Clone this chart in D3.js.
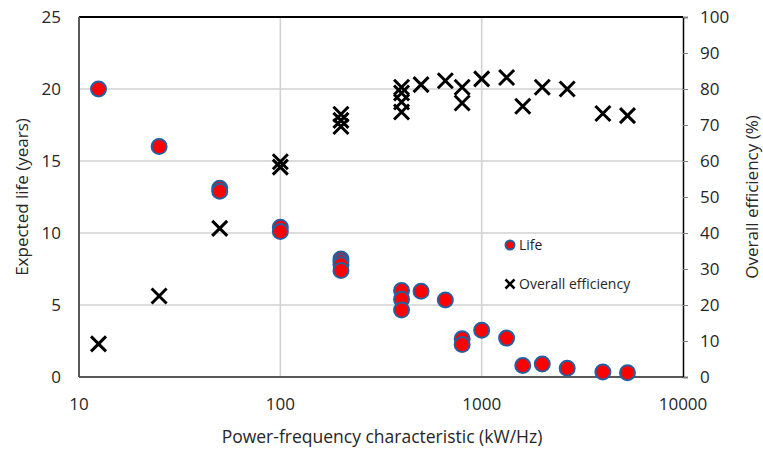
<!DOCTYPE html>
<html>
<head>
<meta charset="utf-8">
<script src="https://cdn.jsdelivr.net/npm/d3@7"></script>
<style>
  body { margin: 0; background: #fff; }
  svg text { font-family: "Open Sans", sans-serif; fill: #262626; }
</style>
</head>
<body>
<div class="chart"></div>
<script>
// Life series (circles)
var lifeX = [12.5, 25, 50, 50, 100, 100, 200, 200, 200, 200, 400, 400, 400, 500, 660, 800, 800, 1000, 1330, 1600, 2000, 2660, 4000, 5300];
var lifeY = [20, 16, 13.1, 12.9, 10.4, 10.1, 8.2, 8.0, 7.8, 7.4, 6.0, 5.4, 4.65, 5.95, 5.35, 2.65, 2.25, 3.25, 2.7, 0.8, 0.9, 0.6, 0.35, 0.3];

// Overall efficiency series (crosses)
var effX = [12.5, 25, 50, 100, 100, 200, 200, 200, 400, 400, 400, 400, 500, 660, 800, 800, 1000, 1330, 1600, 2000, 2660, 4000, 5300];
var effY = [9.2, 22.5, 41.3, 59.8, 58.3, 73, 71.3, 69.6, 80.5, 78.9, 76.4, 73.6, 81.2, 82.3, 80.5, 76.1, 82.8, 83.2, 75.2, 80.5, 80, 73.2, 72.6];

var xTicks = [10, 100, 1000, 10000];
var leftTicks = [0, 5, 10, 15, 20, 25];
var rightTicks = [0, 10, 20, 30, 40, 50, 60, 70, 80, 90, 100];

var width = 763, height = 453;
var margin = {left: 79, right: 80, top: 17, bottom: 76};

var svg = d3.select(".chart").append("svg")
    .attr("width", width)
    .attr("height", height);

var x = d3.scaleLog().domain([10, 10000]).range([margin.left, width - margin.right]);
var yL = d3.scaleLinear().domain([0, 25]).range([height - margin.bottom, margin.top]);
var yR = d3.scaleLinear().domain([0, 100]).range([height - margin.bottom, margin.top]);

var x0 = x.range()[0], x1 = x.range()[1];
var y0 = yL.range()[0], y1 = yL.range()[1];

// gridlines
svg.append("g").selectAll("line")
    .data(leftTicks.slice(1, -1))
    .enter().append("line")
    .attr("x1", x0).attr("x2", x1)
    .attr("y1", function (d) { return yL(d); })
    .attr("y2", function (d) { return yL(d); })
    .attr("stroke", "#d0d0d0").attr("stroke-width", 1.5);

svg.append("g").selectAll("line")
    .data(xTicks.slice(1, -1))
    .enter().append("line")
    .attr("y1", y0).attr("y2", y1)
    .attr("x1", function (d) { return x(d); })
    .attr("x2", function (d) { return x(d); })
    .attr("stroke", "#d0d0d0").attr("stroke-width", 1.5);

// frame
svg.append("line").attr("x1", x0).attr("x2", x1).attr("y1", y1).attr("y2", y1)
    .attr("stroke", "#000").attr("stroke-width", 2);
svg.append("line").attr("x1", x0).attr("x2", x0).attr("y1", y1).attr("y2", y0)
    .attr("stroke", "#595959").attr("stroke-width", 2);
svg.append("line").attr("x1", x0).attr("x2", x1).attr("y1", y0).attr("y2", y0)
    .attr("stroke", "#595959").attr("stroke-width", 2);

// left axis labels
svg.append("g").selectAll("text")
    .data(leftTicks)
    .enter().append("text")
    .attr("x", x0 - 18)
    .attr("y", function (d) { return yL(d); })
    .attr("dy", "0.35em")
    .attr("text-anchor", "end")
    .attr("font-size", 17)
    .text(function (d) { return d; });

// right axis
var rightAxis = d3.axisRight(yR).tickValues(rightTicks).tickSize(5).tickPadding(12);
var gR = svg.append("g")
    .attr("transform", "translate(" + x1 + ",0)")
    .call(rightAxis);
gR.select(".domain").attr("stroke", "#000").attr("stroke-width", 1.5);
gR.selectAll(".tick line").attr("stroke", "#808080");
gR.selectAll(".tick text").attr("font-size", 17).attr("font-family", "Open Sans").attr("fill", "#262626");

// x axis labels
svg.append("g").selectAll("text")
    .data(xTicks)
    .enter().append("text")
    .attr("x", function (d) { return x(d); })
    .attr("y", y0 + 27)
    .attr("dy", "0.35em")
    .attr("text-anchor", "middle")
    .attr("font-size", 17)
    .text(function (d) { return d; });

// axis titles
svg.append("text")
    .attr("x", (x0 + x1) / 2 + 1)
    .attr("y", 437)
    .attr("dy", "0.35em")
    .attr("text-anchor", "middle")
    .attr("font-size", 17.5)
    .text("Power-frequency characteristic (kW/Hz)");

svg.append("text")
    .attr("transform", "translate(22," + (y0 + y1) / 2 + ") rotate(-90)")
    .attr("dy", "0.35em")
    .attr("text-anchor", "middle")
    .attr("font-size", 17)
    .text("Expected life (years)");

svg.append("text")
    .attr("transform", "translate(752," + (y0 + y1) / 2 + ") rotate(-90)")
    .attr("dy", "0.35em")
    .attr("text-anchor", "middle")
    .attr("font-size", 17)
    .text("Overall efficiency (%)");

// life markers
svg.append("g").selectAll("circle")
    .data(d3.range(lifeX.length))
    .enter().append("circle")
    .attr("cx", function (i) { return x(lifeX[i]); })
    .attr("cy", function (i) { return yL(lifeY[i]); })
    .attr("r", 7.5)
    .attr("fill", "#ff0000")
    .attr("stroke", "#24609f")
    .attr("stroke-width", 2);

// efficiency markers
function cross(s) {
    return "M" + (-s) + "," + (-s) + "L" + s + "," + s + "M" + (-s) + "," + s + "L" + s + "," + (-s);
}
svg.append("g").selectAll("path")
    .data(d3.range(effX.length))
    .enter().append("path")
    .attr("transform", function (i) { return "translate(" + x(effX[i]) + "," + yR(effY[i]) + ")"; })
    .attr("d", cross(7.5))
    .attr("stroke", "#000")
    .attr("stroke-width", 3)
    .attr("fill", "none");

// legend
var legend = svg.append("g");
legend.append("circle")
    .attr("cx", 510).attr("cy", 245).attr("r", 4.5)
    .attr("fill", "#ff0000").attr("stroke", "#24609f").attr("stroke-width", 2);
legend.append("text")
    .attr("x", 519).attr("y", 245).attr("dy", "0.35em")
    .attr("font-size", 14).text("Life");
legend.append("path")
    .attr("transform", "translate(510,284)")
    .attr("d", cross(4.5))
    .attr("stroke", "#000").attr("stroke-width", 2.5).attr("fill", "none");
legend.append("text")
    .attr("x", 519).attr("y", 284).attr("dy", "0.35em")
    .attr("font-size", 14).text("Overall efficiency");
</script>
</body>
</html>
